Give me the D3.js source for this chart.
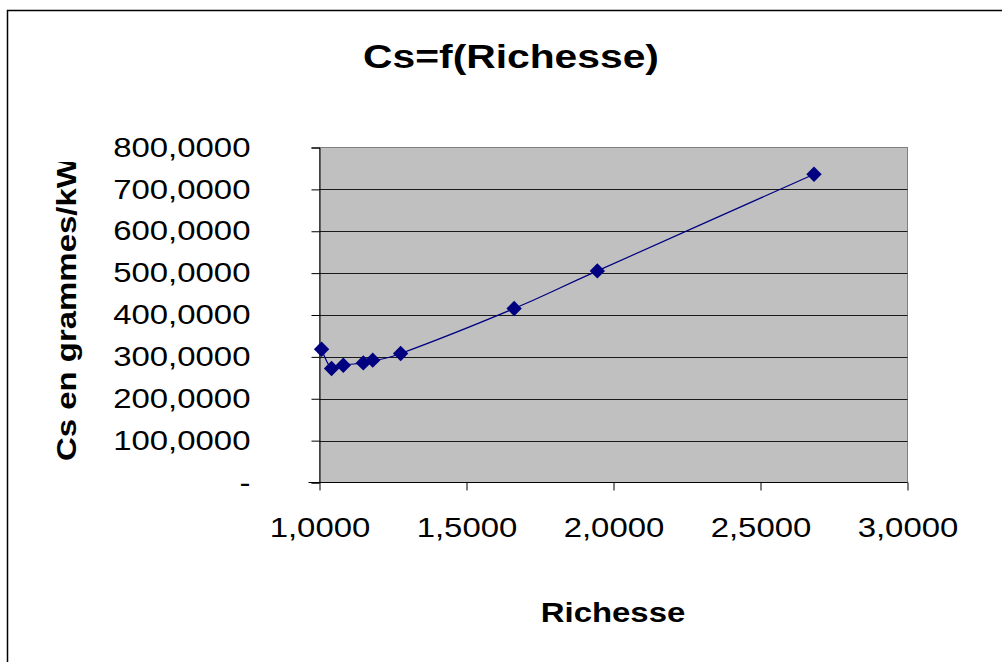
<!DOCTYPE html>
<html>
<head>
<meta charset="utf-8">
<script src="https://cdn.jsdelivr.net/npm/d3@7"></script>
<style>
  html, body { margin: 0; padding: 0; background: #fff; }
  svg { display: block; font-family: "Liberation Sans", Arial, sans-serif; }
</style>
</head>
<body>
<svg id="chart" width="1002" height="662"></svg>
<script>
// Richesse (x) and specific consumption Cs (y)
const richesse = [1.007, 1.041, 1.081, 1.149, 1.181, 1.276, 1.662, 1.945, 2.682];
const cs       = [318.3, 272.2, 280.1, 285.6, 292.1, 308.1, 415.5, 505.3, 736.2];
const xTicks = [1.0, 1.5, 2.0, 2.5, 3.0];
const yTicks = [0, 100, 200, 300, 400, 500, 600, 700, 800];

const titleText = "Cs=f(Richesse)";
const xTitle = "Richesse";
const yTitle = "Cs en grammes/kWh";

const svg = d3.select("#chart");
const FS = 27;        // base font size
const SX = 1.22;      // horizontal stretch of the wide chart lettering

// outer frame of the chart object
svg.append("rect")
  .attr("x", 7.5).attr("y", 10.5)
  .attr("width", 1010).attr("height", 700)
  .attr("fill", "#fff").attr("stroke", "#000").attr("stroke-width", 1.5);

const plot = { left: 319.5, right: 907.5, top: 147.5, bottom: 482.5 };

const x = d3.scaleLinear().domain([1, 3]).range([plot.left, plot.right]);
const y = d3.scaleLinear().domain([0, 800]).range([plot.bottom, plot.top]);

const fmt = v => v === 0 ? "-" : d3.format(".4f")(v).replace(".", ",");

// plot background
svg.append("rect")
  .attr("x", plot.left).attr("y", plot.top)
  .attr("width", plot.right - plot.left).attr("height", plot.bottom - plot.top)
  .attr("fill", "#c0c0c0").attr("stroke", "#808080").attr("stroke-width", 1);

// horizontal gridlines
svg.append("g").selectAll("line")
  .data(yTicks.filter(d => d > 0 && d < 800))
  .join("line")
  .attr("x1", plot.left).attr("x2", plot.right)
  .attr("y1", d => Math.round(y(d)) + 0.5).attr("y2", d => Math.round(y(d)) + 0.5)
  .attr("stroke", "#1a1a1a").attr("stroke-width", 1);

// y axis
const yAxis = svg.append("g")
  .attr("transform", `translate(${plot.left},0)`)
  .call(d3.axisLeft(y).tickValues(yTicks).tickFormat(fmt).tickSize(8));
yAxis.select(".domain").attr("stroke", "#000");
yAxis.selectAll(".tick line").attr("stroke", "#000");
yAxis.selectAll(".tick text")
  .attr("font-size", FS).attr("fill", "#000")
  .attr("font-family", "'Liberation Sans', Arial, sans-serif")
  .attr("x", -69 / SX)
  .attr("transform", `scale(${SX},1)`);

// x axis
const xAxis = svg.append("g")
  .attr("transform", `translate(0,${plot.bottom})`)
  .call(d3.axisBottom(x).tickValues(xTicks).tickFormat(fmt).tickSize(8));
xAxis.select(".domain").attr("stroke", "#000").attr("d", `M${plot.left - 11},0H${plot.right}`);
xAxis.selectAll(".tick line").attr("stroke", "#000");
xAxis.selectAll(".tick text")
  .attr("font-size", FS).attr("fill", "#000")
  .attr("font-family", "'Liberation Sans', Arial, sans-serif")
  .attr("y", 55).attr("dy", 0)
  .attr("transform", `scale(${SX},1)`);

// smoothed series line
const pts = richesse.map((r, i) => [r, cs[i]]);
svg.append("path")
  .datum(pts)
  .attr("fill", "none").attr("stroke", "#000080").attr("stroke-width", 1.2)
  .attr("d", d3.line().x(d => x(d[0])).y(d => y(d[1])).curve(d3.curveCatmullRom.alpha(0)));

// diamond markers
const diamond = d3.symbol().type(d3.symbolSquare).size(118);
svg.append("g").selectAll("path")
  .data(pts)
  .join("path")
  .attr("d", diamond)
  .attr("transform", d => `translate(${x(d[0])},${y(d[1])}) rotate(45)`)
  .attr("fill", "#000080");

// title
svg.append("text")
  .attr("transform", `translate(511,68) scale(1.2,1)`)
  .attr("text-anchor", "middle")
  .attr("font-size", 34).attr("font-weight", "bold")
  .text(titleText);

// x title
svg.append("text")
  .attr("transform", `translate(613,622) scale(${SX},1)`)
  .attr("text-anchor", "middle")
  .attr("font-size", FS).attr("font-weight", "bold")
  .text(xTitle);

// y title, clipped at the top of the chart object
svg.append("clipPath").attr("id", "ytclip")
  .append("rect").attr("x", 0).attr("y", 162).attr("width", 200).attr("height", 400);
svg.append("g").attr("clip-path", "url(#ytclip)")
  .append("text")
  .attr("transform", `translate(76,461) rotate(-90) scale(${SX},1)`)
  .attr("text-anchor", "start")
  .attr("font-size", FS).attr("font-weight", "bold")
  .text(yTitle);
</script>
</body>
</html>
